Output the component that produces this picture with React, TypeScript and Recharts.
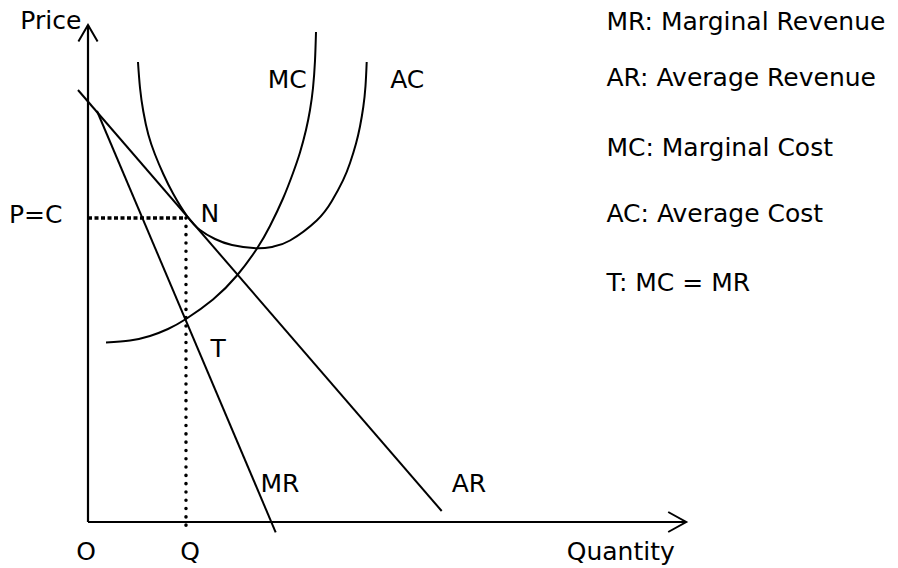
import React from 'react';
import { LineChart, Line, XAxis, YAxis, ReferenceDot } from 'recharts';

// price axis and quantity axis, with their arrow heads
const priceAxis = [
  { x: 0, y: 0 },
  { x: 0, y: 99.4 },
];
const priceArrow = [
  { x: -1.6, y: 96.1 },
  { x: 0, y: 99.4 },
  { x: 1.6, y: 96.1 },
];
const quantityAxis = [
  { x: 0, y: 0 },
  { x: 99.7, y: 0 },
];
const quantityArrow = [
  { x: 96.7, y: 2 },
  { x: 99.7, y: 0 },
  { x: 96.7, y: -2 },
];

// demand side
const arPoints = [
  { x: -1.67, y: 86.4 },
  { x: 58.95, y: 2.2 },
];
const mrPoints = [
  { x: 1.5, y: 82.2 },
  { x: 31.28, y: -2.06 },
];

// cost side
const mcPoints = [
  { x: 3.0, y: 35.9 },
  { x: 7.0, y: 36.3 },
  { x: 10.33, y: 37.2 },
  { x: 13.33, y: 38.6 },
  { x: 16.33, y: 40.6 },
  { x: 20.83, y: 44.5 },
  { x: 24.83, y: 49.3 },
  { x: 28.17, y: 54.7 },
  { x: 30.33, y: 59.2 },
  { x: 32.5, y: 64.7 },
  { x: 34.17, y: 69.8 },
  { x: 35.33, y: 73.9 },
  { x: 36.33, y: 78.4 },
  { x: 37.0, y: 82.4 },
  { x: 37.5, y: 86.8 },
  { x: 37.83, y: 92.2 },
  { x: 38.0, y: 98.0 },
];
const acPoints = [
  { x: 8.33, y: 92 },
  { x: 8.67, y: 86.8 },
  { x: 9.22, y: 82.1 },
  { x: 10.05, y: 77.5 },
  { x: 11.17, y: 73.5 },
  { x: 12.55, y: 69.6 },
  { x: 14.22, y: 65.6 },
  { x: 16.5, y: 61.2 },
  { x: 18.67, y: 58.4 },
  { x: 21.17, y: 56.6 },
  { x: 24, y: 55.4 },
  { x: 28.17, y: 54.74 },
  { x: 30.83, y: 55.06 },
  { x: 33.67, y: 56.3 },
  { x: 38.12, y: 60.3 },
  { x: 40.62, y: 64.14 },
  { x: 42.5, y: 68.32 },
  { x: 43.67, y: 71.8 },
  { x: 44.67, y: 75.7 },
  { x: 45.33, y: 79.1 },
  { x: 45.88, y: 83 },
  { x: 46.25, y: 87.2 },
  { x: 46.45, y: 92 },
];

// dotted guides from N
const priceGuide = [
  { x: 0, y: 60.8 },
  { x: 16.33, y: 60.8 },
];
const quantityGuide = [
  { x: 16.33, y: 60.8 },
  { x: 16.33, y: -0.7 },
];

const curveLabels = [
  { text: 'Price', x: -6.2, y: 100.4 },
  { text: 'MC', x: 33.2, y: 88.6 },
  { text: 'AC', x: 53.2, y: 88.6 },
  { text: 'P=C', x: -8.7, y: 61.6 },
  { text: 'N', x: 20.3, y: 61.8 },
  { text: 'T', x: 21.7, y: 34.8 },
  { text: 'MR', x: 32, y: 7.8 },
  { text: 'AR', x: 63.5, y: 7.8 },
  { text: 'O', x: -0.3, y: -5.8 },
  { text: 'Q', x: 17, y: -5.8 },
  { text: 'Quantity', x: 88.8, y: -5.8 },
];

const notes = [
  { text: 'MR: Marginal Revenue', y: 100.2 },
  { text: 'AR: Average Revenue', y: 88.9 },
  { text: 'MC: Marginal Cost', y: 75 },
  { text: 'AC: Average Cost', y: 61.8 },
  { text: 'T: MC = MR', y: 48 },
];
const noteX = 86.4;

const ink = '#000';
const font = { fontSize: 25, fill: ink };

export default function App() {
  return (
    <div style={{ position: 'absolute', left: 0, top: 0, width: 898, height: 568, background: '#fff', fontFamily: '"DejaVu Sans", Verdana, sans-serif' }}>
      <LineChart width={898} height={568} margin={{ top: 2, right: 0, bottom: 1, left: 4 }}>
        <XAxis type="number" dataKey="x" domain={[-14, 135]} allowDataOverflow hide />
        <YAxis type="number" dataKey="y" domain={[-9, 104]} allowDataOverflow hide />

        <Line data={priceAxis} dataKey="y" stroke={ink} strokeWidth={2.2} dot={false} activeDot={false} isAnimationActive={false} />
        <Line data={priceArrow} dataKey="y" stroke={ink} strokeWidth={2} dot={false} activeDot={false} isAnimationActive={false} />
        <Line data={quantityAxis} dataKey="y" stroke={ink} strokeWidth={2.2} dot={false} activeDot={false} isAnimationActive={false} />
        <Line data={quantityArrow} dataKey="y" stroke={ink} strokeWidth={2} dot={false} activeDot={false} isAnimationActive={false} />

        <Line data={priceGuide} dataKey="y" stroke={ink} strokeWidth={3.5} strokeDasharray="4 2.5" dot={false} activeDot={false} isAnimationActive={false} />
        <Line data={quantityGuide} dataKey="y" stroke={ink} strokeWidth={3.5} strokeDasharray="0.1 8.2" strokeLinecap="round" dot={false} activeDot={false} isAnimationActive={false} />

        <Line data={arPoints} dataKey="y" stroke={ink} strokeWidth={2} dot={false} activeDot={false} isAnimationActive={false} />
        <Line data={mrPoints} dataKey="y" stroke={ink} strokeWidth={2} dot={false} activeDot={false} isAnimationActive={false} />
        <Line type="natural" data={mcPoints} dataKey="y" stroke={ink} strokeWidth={2} dot={false} activeDot={false} isAnimationActive={false} />
        <Line type="natural" data={acPoints} dataKey="y" stroke={ink} strokeWidth={2} dot={false} activeDot={false} isAnimationActive={false} />

        {curveLabels.map((l) => (
          <ReferenceDot key={l.text} x={l.x} y={l.y} r={0} ifOverflow="visible"
            label={{ value: l.text, position: 'center', ...font }} />
        ))}
        {notes.map((n) => (
          <ReferenceDot key={n.text} x={noteX} y={n.y} r={0} ifOverflow="visible"
            label={{ value: n.text, position: 'right', offset: 0, ...font }} />
        ))}
      </LineChart>
    </div>
  );
}
